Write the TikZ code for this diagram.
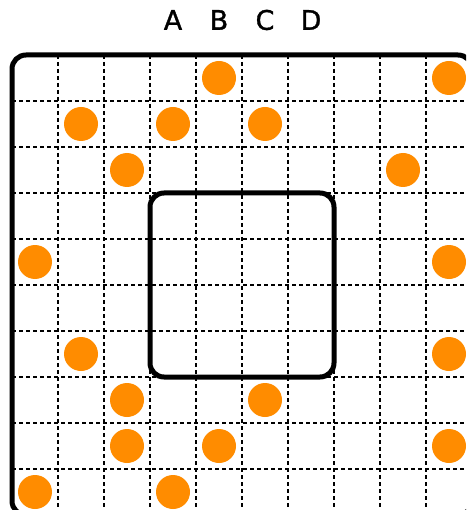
\documentclass[tikz,border=0pt]{standalone}
\usepackage{fontspec}
\setmainfont{DejaVu Sans}
\newfontfamily\labelfont[FakeBold=1.2]{DejaVu Sans}
\usetikzlibrary{positioning}
\definecolor{stoneorange}{HTML}{FF8C00}
\tikzset{
  gridline/.style={black, line width=2pt, dash pattern=on 4pt off 3pt},
  board/.style={black, line width=5pt, rounded corners=14pt},
  stone/.style={circle, fill=stoneorange, minimum size=34pt, inner sep=0pt},
  collabel/.style={font=\labelfont\fontsize{27}{27}\selectfont, inner sep=0pt}
}

\begin{document}
\begin{tikzpicture}[x=1pt, y=-1pt]
  \useasboundingbox (0,0) rectangle (466,510);
  \clip (0,0) rectangle (466,510);
  % dashed grid
  \foreach \i in {1,...,9} {
    \draw[gridline] (12+46*\i, 55) -- (12+46*\i, 515);
    \draw[gridline] (12, 55+46*\i) -- (472, 55+46*\i);
  }
  % stones (column/row)
  \foreach \c/\r [count=\n] in {4/0, 9/0, 1/1, 3/1, 5/1, 2/2, 8/2, 0/4, 9/4,
                               1/6, 9/6, 2/7, 5/7, 2/8, 4/8, 9/8, 0/9, 3/9}
    \node[stone] (stone\n) at (35+46*\c, 78+46*\r) {};
  % outer board and inner square
  \draw[board] (12,55) rectangle (472,515);
  \draw[board] (150,193) rectangle (334,377);
  % column labels
  \foreach \l [count=\i from 3] in {A,B,C,D}
    \node[collabel] (col\l) at (35+46*\i, 20) {\l};
\end{tikzpicture}
\end{document}
